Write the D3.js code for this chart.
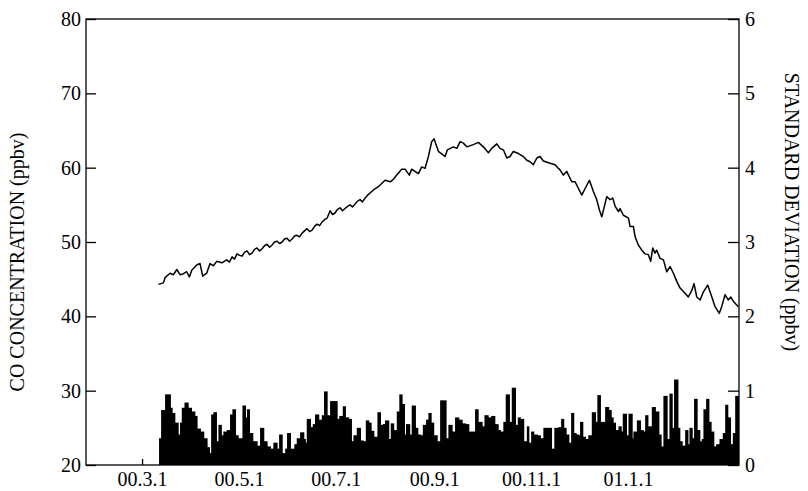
<!DOCTYPE html>
<html><head><meta charset="utf-8">
<script src="https://cdn.jsdelivr.net/npm/d3@7/dist/d3.min.js"></script>
<style>
body{margin:0;background:#fff}
svg{display:block}
text{font-family:"Liberation Serif","Times New Roman",serif;fill:#000}
</style>
</head><body><div id="chart"></div>
<script>
// ---- data (days counted from 2000-03-01) ----
const baseDate = Date.UTC(2000, 2, 1);
const xDomainDays = [-35.3, 375.9];
const xTickDays = [0, 61, 122, 184, 245, 306];
const xTickLabels = ["00.3.1", "00.5.1", "00.7.1", "00.9.1", "00.11.1", "01.1.1"];
const coTicks = [20, 30, 40, 50, 60, 70, 80];
const sdTicks = [0, 1, 2, 3, 4, 5, 6];

const coDays = [10.3,13.4,14.5,17.6,19.7,21.9,23.9,25.8,28.1,29.8,31.3,34.4,36.5,38.2,40.7,42.8,44.9,47.0,50.2,53.3,
  55.0,56.7,58.2,59.8,61.4,63.0,64.5,66.1,67.7,69.3,70.8,72.4,74.0,75.6,77.1,78.7,80.3,81.9,83.4,85.0,86.6,88.2,89.7,91.3,92.9,94.5,96.0,97.6,99.2,100.8,102.3,103.9,105.5,107.1,108.6,110.2,111.8,113.4,114.9,116.5,118.4,120.0,121.5,123.1,124.7,126.2,127.8,129.4,131.0,132.5,134.1,135.7,137.3,138.8,140.4,142.0,143.6,
  145.7,148.6,153.0,156.2,158.1,160.4,163.5,165.6,168.3,169.8,171.9,174.0,176.1,178.2,180.3,182.4,183.9,185.1,186.6,190.8,192.3,196.0,198.2,200.3,202.3,204.5,208.6,211.8,214.9,218.1,220.2,223.4,225.4,227.5,229.7,231.7,233.8,237.0,240.1,242.3,244.3,246.4,248.6,250.6,252.7,256.9,260.1,262.2,
  263.2,265.3,267.4,270.6,272.7,274.8,276.9,279.0,281.7,284.2,286.3,288.0,289.5,291.6,292.6,294.7,296.4,297.9,300.0,301.0,303.1,306.3,307.3,309.4,310.5,312.5,314.7,316.8,318.8,320.3,321.6,323.0,324.1,326.2,328.3,330.4,332.5,334.6,336.7,338.8,341.9,344.0,346.2,347.6,349.3,351.4,353.5,356.2,358.8,360.8,363.5,365.0,367.1,369.2,370.7,372.4,375.5];
const coValues = [44.3,44.5,45.2,45.8,45.6,46.3,45.6,45.7,46.0,45.3,46.2,46.9,47.1,45.4,45.8,47.1,46.8,47.4,47.2,47.6,
  47.3,48.0,47.7,48.4,48.2,48.1,48.6,48.8,48.3,48.5,49.0,49.2,48.8,49.1,49.5,49.7,49.3,49.6,50.0,50.1,49.8,50.0,50.4,50.5,50.1,50.4,50.8,50.9,50.7,51.2,51.5,51.8,51.4,51.6,52.1,52.4,52.2,52.7,53.0,53.2,54.2,53.7,53.9,54.4,54.6,54.2,54.5,54.8,55.0,54.7,55.1,55.5,55.7,55.4,55.9,56.3,56.6,
  57.0,57.4,58.3,58.1,58.4,59.0,59.8,59.8,59.0,59.8,59.5,59.2,60.1,59.9,61.5,63.5,63.9,63.1,62.2,61.5,62.4,62.8,62.6,63.5,63.3,62.8,63.1,63.4,62.8,62.0,62.6,63.2,62.6,62.4,61.3,61.5,62.2,61.9,61.5,61.0,60.8,60.4,61.3,61.5,60.9,60.6,60.4,59.9,
  59.7,59.0,59.5,58.1,58.1,57.2,56.3,57.2,58.3,56.8,55.7,54.3,53.4,55.2,56.1,55.7,55.9,54.8,54.1,54.5,53.6,53.2,52.1,52.1,50.7,49.6,48.9,48.4,48.3,47.4,49.2,48.5,48.9,47.8,47.6,46.0,46.7,45.8,44.7,43.8,43.1,42.6,43.5,44.4,42.6,42.2,43.3,44.2,42.6,41.3,40.4,41.3,42.9,42.2,42.6,42.0,41.3];

const sdStartDays = [10.7,12.0,14.5,17.6,18.7,20.4,22.5,23.9,25.0,26.7,28.8,30.9,33.0,34.4,36.5,38.6,40.7,42.2,43.5,44.9,46.6,48.1,49.7,51.2,53.3,55.4,56.9,58.6,60.3,63.2,64.9,66.1,67.4,69.5,72.2,74.3,76.4,78.5,80.6,82.7,84.8,86.3,88.0,90.1,91.3,93.2,95.9,97.4,99.5,101.6,
  102.6,103.7,105.8,107.5,108.9,111.0,113.2,114.6,116.3,118.4,122.6,124.2,126.4,127.8,129.9,131.6,133.1,135.2,137.3,139.0,140.9,142.5,144.0,145.7,148.2,149.9,151.6,153.0,155.1,156.6,158.2,160.4,162.0,163.5,165.0,166.2,168.3,169.8,171.9,173.4,175.1,176.8,178.8,180.3,181.8,183.4,185.6,187.7,
  191.2,192.9,195.0,197.1,199.2,201.3,203.4,205.5,209.7,211.4,213.9,215.6,217.7,219.8,221.9,224.0,225.4,227.5,229.0,231.1,232.8,234.9,236.6,238.0,240.1,242.3,243.3,245.0,246.4,248.6,250.6,252.7,257.6,259.6,262.2,263.9,265.3,266.8,268.5,270.2,271.6,273.1,274.7,275.8,277.3,279.0,281.0,
  283.2,285.3,286.7,288.4,291.6,293.6,295.2,296.4,297.9,300.0,301.5,302.7,304.8,306.3,308.4,309.4,311.6,313.6,315.4,316.8,318.3,321.0,323.0,325.2,326.6,328.3,330.4,332.1,333.6,335.0,337.2,338.4,339.9,342.0,343.5,344.7,346.2,347.6,349.3,351.0,352.5,353.5,355.2,356.7,358.1,359.8,361.5,363.6,365.7,367.2,368.6,370.3,372.0,373.5];
const sdValues = [0.36,0.74,0.95,0.77,0.70,0.57,0.41,0.57,0.77,0.84,0.77,0.72,0.66,0.49,0.45,0.36,0.24,0.16,0.68,0.71,0.32,0.54,0.40,0.45,0.47,0.68,0.75,0.40,0.36,0.80,0.64,0.75,0.43,0.32,0.26,0.50,0.32,0.25,0.22,0.30,0.22,0.41,0.16,0.22,0.43,0.22,0.28,0.36,0.44,0.35,
  0.30,0.62,0.51,0.55,0.68,0.61,0.67,0.99,0.67,0.86,0.62,0.66,0.79,0.64,0.62,0.32,0.40,0.50,0.33,0.32,0.60,0.57,0.46,0.38,0.71,0.54,0.55,0.60,0.35,0.56,0.47,0.72,0.95,0.82,0.41,0.55,0.41,0.80,0.50,0.41,0.40,0.54,0.61,0.70,0.57,0.40,0.32,0.87,
  0.36,0.54,0.45,0.64,0.61,0.56,0.55,0.45,0.75,0.58,0.52,0.67,0.64,0.66,0.55,0.47,0.45,0.58,0.95,0.58,1.04,0.54,0.64,0.62,0.32,0.52,0.30,0.45,0.41,0.40,0.36,0.50,0.22,0.50,0.51,0.62,0.50,0.41,0.30,0.70,0.43,0.41,0.40,0.58,0.38,0.35,0.40,
  0.71,0.58,0.94,0.58,0.78,0.74,0.64,0.57,0.47,0.52,0.45,0.69,0.40,0.69,0.36,0.45,0.60,0.47,0.45,0.67,0.52,0.78,0.72,0.41,0.25,0.93,0.35,0.96,0.50,1.15,0.50,0.32,0.26,0.47,0.28,0.50,0.36,0.89,0.47,0.32,0.35,0.75,0.89,0.58,0.45,0.25,0.28,0.35,0.43,0.81,0.64,0.28,0.43,0.93];
const sdEndDay = 376.2;

// ---- layout ----
const W = 808, H = 491;
const m = {left: 86, right: 69, top: 19, bottom: 26};
const toDate = d => new Date(baseDate + d * 864e5);

const svg = d3.select("#chart").append("svg").attr("width", W).attr("height", H);

const x = d3.scaleUtc().domain(xDomainDays.map(toDate)).range([m.left, W - m.right]);
const yCo = d3.scaleLinear().domain([20, 80]).range([H - m.bottom, m.top]);
const ySd = d3.scaleLinear().domain([0, 6]).range([H - m.bottom, m.top]);

// bars (standard deviation), each spanning to the start of the next
const bars = sdStartDays.map((d, i) => ({
  start: d, end: i < sdStartDays.length - 1 ? sdStartDays[i + 1] : sdEndDay, v: sdValues[i]
}));
svg.append("g").selectAll("rect").data(bars).join("rect")
  .attr("x", d => x(toDate(d.start)))
  .attr("width", d => Math.max(0, Math.min(x(toDate(d.end)) + 0.9, W - m.right) - x(toDate(d.start))))
  .attr("y", d => ySd(d.v))
  .attr("height", d => ySd(0) - ySd(d.v))
  .attr("fill", "#000");

// CO line
const line = d3.line().x((d, i) => x(toDate(coDays[i]))).y(d => yCo(d));
svg.append("path").datum(coValues)
  .attr("d", line).attr("fill", "none").attr("stroke", "#000")
  .attr("stroke-width", 1.5).attr("stroke-linejoin", "round");

// axes
const fs = 20;
const gL = svg.append("g").attr("transform", `translate(${m.left},0)`)
  .call(d3.axisLeft(yCo).tickValues(coTicks).tickFormat(d3.format("d"))
    .tickSizeInner(-10).tickSizeOuter(0).tickPadding(5));
const gR = svg.append("g").attr("transform", `translate(${W - m.right},0)`)
  .call(d3.axisRight(ySd).tickValues(sdTicks).tickFormat(d3.format("d"))
    .tickSizeInner(-11).tickSizeOuter(0).tickPadding(6));
const gB = svg.append("g").attr("transform", `translate(0,${H - m.bottom})`)
  .call(d3.axisBottom(x).tickValues(xTickDays.map(toDate))
    .tickFormat((d, i) => xTickLabels[i]).tickSizeInner(-6).tickSizeOuter(0).tickPadding(7));
[gL, gR, gB].forEach(g => {
  g.select(".domain").remove();
  g.selectAll("line").attr("stroke", "#000").attr("stroke-width", 1.3);
  g.selectAll("text").attr("font-size", fs).attr("font-family", '"Liberation Serif",serif').attr("fill", "#000");
});

// frame
svg.append("rect").attr("x", m.left).attr("y", m.top)
  .attr("width", W - m.left - m.right).attr("height", H - m.top - m.bottom)
  .attr("fill", "none").attr("stroke", "#000").attr("stroke-width", 1.3);

// titles
svg.append("text").attr("transform", `translate(17,262) rotate(-90)`)
  .attr("text-anchor", "middle").attr("dominant-baseline", "central").attr("font-size", 20)
  .text("CO CONCENTRATION (ppbv)");
svg.append("text").attr("transform", `translate(792,212) rotate(90)`)
  .attr("text-anchor", "middle").attr("dominant-baseline", "central").attr("font-size", 20)
  .text("STANDARD DEVIATION (ppbv)");
</script>
</body></html>
